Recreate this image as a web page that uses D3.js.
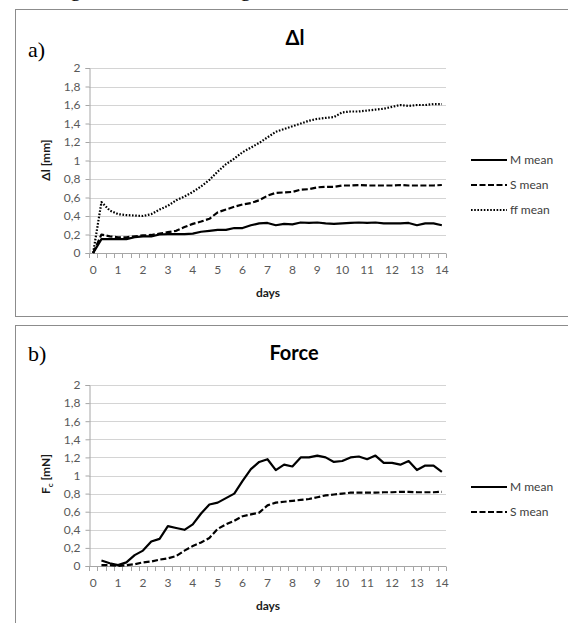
<!DOCTYPE html>
<html lang="en">
<head>
  <meta charset="UTF-8">
  <title>Δl and Force</title>
  <style>
  body { margin: 0; background: #fff; }
  .grid line { stroke: #d4d4d4; stroke-width: 1.2px; }
  .tick-label { font-family: Lato, "Open Sans", sans-serif; font-size: 12px; fill: #595959; }
  .axis-title { font-family: Lato, "Open Sans", sans-serif; font-size: 12px; font-weight: bold; fill: #1a1a1a; }
  .chart-title { font-family: Lato, "Open Sans", sans-serif; font-size: 20px; font-weight: bold; fill: #000; }
  .panel-tag { font-family: "Liberation Serif", "DejaVu Serif", serif; font-size: 22px; fill: #000; }
  .legend text { font-family: Lato, "Open Sans", sans-serif; font-size: 12px; fill: #404040; }
  </style>
</head>
<body>
  <script src="https://d3js.org/d3.v7.min.js"></script>
  <script type="text/javascript">

    // one category every 8 hours, labels on whole days
    var dayLabels = d3.range(0, 15).map(String);
    var nCats = 43;
    var yTicks = [0, 0.2, 0.4, 0.6, 0.8, 1, 1.2, 1.4, 1.6, 1.8, 2];

    // panel a) Δl [mm]
    var mMeanDl = [0, 0.15, 0.15, 0.15, 0.15, 0.17, 0.18, 0.18, 0.2, 0.205, 0.205,
      0.205, 0.21, 0.23, 0.24, 0.25, 0.25, 0.27, 0.27, 0.3, 0.32, 0.325,
      0.3, 0.315, 0.31, 0.33, 0.325, 0.33, 0.32, 0.315, 0.32, 0.325,
      0.33, 0.325, 0.33, 0.32, 0.32, 0.32, 0.325, 0.3, 0.32, 0.32, 0.3];
    var sMeanDl = [0, 0.2, 0.18, 0.17, 0.17, 0.18, 0.19, 0.195, 0.21, 0.225, 0.24,
      0.28, 0.315, 0.34, 0.37, 0.44, 0.47, 0.5, 0.525, 0.54, 0.57, 0.62,
      0.65, 0.655, 0.66, 0.685, 0.69, 0.71, 0.715, 0.715, 0.73, 0.73,
      0.735, 0.73, 0.73, 0.73, 0.73, 0.735, 0.73, 0.73, 0.73, 0.73, 0.735];
    var ffMeanDl = [0, 0.55, 0.46, 0.42, 0.41, 0.405, 0.4, 0.42, 0.47, 0.51, 0.57,
      0.61, 0.66, 0.72, 0.79, 0.88, 0.96, 1.02, 1.09, 1.14, 1.19, 1.25,
      1.31, 1.34, 1.37, 1.4, 1.43, 1.45, 1.46, 1.47, 1.52, 1.53,
      1.53, 1.54, 1.55, 1.56, 1.58, 1.6, 1.59, 1.6, 1.6, 1.61, 1.61];

    // panel b) Fc [mN]
    var mMeanF = [null, 0.06, 0.03, 0.01, 0.04, 0.12, 0.17, 0.27, 0.3, 0.44, 0.42,
      0.4, 0.46, 0.58, 0.68, 0.7, 0.75, 0.8, 0.94, 1.07, 1.15, 1.18,
      1.06, 1.12, 1.1, 1.2, 1.2, 1.22, 1.2, 1.15, 1.16, 1.2,
      1.21, 1.18, 1.22, 1.14, 1.14, 1.12, 1.16, 1.06, 1.11, 1.11, 1.04];
    var sMeanF = [null, 0.01, 0.01, 0.0, 0.01, 0.02, 0.04, 0.05, 0.07, 0.085, 0.11,
      0.17, 0.22, 0.26, 0.31, 0.41, 0.46, 0.5, 0.55, 0.57, 0.59, 0.67,
      0.7, 0.71, 0.72, 0.73, 0.74, 0.76, 0.78, 0.79, 0.8, 0.81,
      0.81, 0.81, 0.81, 0.815, 0.815, 0.82, 0.82, 0.815, 0.815, 0.815, 0.82];

    var styles = {
      solid:  { width: 2.2, dash: null },
      dashed: { width: 2.2, dash: "6,2.5" },
      dotted: { width: 2.2, dash: "1.6,1.6" }
    };

    var width = 568;
    var height = 623;
    var svg = d3.select("body")
        .append("svg")
          .attr("width", width)
          .attr("height", height);

    // caption line above the figure, cut off by the frame
    svg.append("text").attr("class", "panel-tag").attr("x", 70).attr("y", -4).text("g");
    svg.append("text").attr("class", "panel-tag").attr("x", 240).attr("y", -4).text("g");

    var x = d3.scaleBand()
        .domain(d3.range(nCats))
        .range([89, 446]);

    function cx(i) { return x(i) + x.bandwidth() / 2; }

    function drawPanel(opt) {
      var g = svg.append("g");

      g.append("rect")
          .attr("x", 15.5).attr("y", opt.top + 0.5)
          .attr("width", 560).attr("height", opt.boxH)
          .attr("fill", "#fff")
          .attr("stroke", "#8c8c8c");

      var y = d3.scaleLinear().domain([0, 2]).range([opt.y0, opt.y2]);

      // gridlines
      g.append("g").attr("class", "grid")
        .selectAll("line")
        .data(yTicks.slice(1))
        .enter().append("line")
          .attr("x1", 89).attr("x2", 446)
          .attr("y1", function(d){ return Math.round(y(d)) + 0.5; })
          .attr("y2", function(d){ return Math.round(y(d)) + 0.5; });

      // y axis with outward ticks
      var yAxis = d3.axisLeft(y)
          .tickValues(yTicks)
          .tickSize(4)
          .tickPadding(5)
          .tickFormat(function(d){ return String(d).replace(".", ","); });
      var ya = g.append("g")
          .attr("transform", "translate(89.5,0)")
          .call(yAxis);
      ya.select(".domain").attr("stroke", "#a6a6a6");
      ya.selectAll(".tick line").attr("stroke", "#a6a6a6");
      ya.selectAll(".tick text").attr("class", "tick-label").attr("fill", null);
      ya.attr("font-family", null).attr("font-size", null);

      // x axis: ticks on category boundaries, labels on whole days
      var bounds = d3.range(nCats + 1).map(function(k){ return 89 + k * x.step(); });
      g.append("line")
          .attr("x1", 89).attr("x2", 446)
          .attr("y1", Math.round(opt.y0) + 0.5).attr("y2", Math.round(opt.y0) + 0.5)
          .attr("stroke", "#a6a6a6");
      g.append("g").selectAll("line")
        .data(bounds)
        .enter().append("line")
          .attr("x1", function(d){ return Math.round(d) + 0.5; })
          .attr("x2", function(d){ return Math.round(d) + 0.5; })
          .attr("y1", Math.round(opt.y0) + 0.5)
          .attr("y2", Math.round(opt.y0) + 5)
          .attr("stroke", "#a6a6a6");
      g.append("g").selectAll("text")
        .data(dayLabels)
        .enter().append("text")
          .attr("class", "tick-label")
          .attr("text-anchor", "middle")
          .attr("x", function(d, i){ return cx(i * 3); })
          .attr("y", opt.y0 + 21)
          .text(function(d){ return d; });

      // series
      var line = d3.line()
          .defined(function(d){ return d != null; })
          .x(function(d, i){ return cx(i); })
          .y(function(d){ return y(d); });

      opt.series.forEach(function(s){
        var st = styles[s.style];
        g.append("path")
            .datum(s.values)
            .attr("fill", "none")
            .attr("stroke", "#000")
            .attr("stroke-width", st.width)
            .attr("stroke-linejoin", "round")
            .attr("stroke-dasharray", st.dash)
            .attr("d", line);
      });

      // titles
      g.append("text").attr("class", "chart-title")
          .attr("text-anchor", "middle")
          .attr("x", opt.titleX).attr("y", opt.titleY)
          .text(opt.title);
      g.append("text").attr("class", "panel-tag")
          .attr("x", 28).attr("y", opt.tagY)
          .text(opt.tag);
      g.append("text").attr("class", "axis-title")
          .attr("text-anchor", "middle")
          .attr("x", 268).attr("y", opt.y0 + 44)
          .text("days");
      var yt = g.append("text").attr("class", "axis-title")
          .attr("text-anchor", "middle")
          .attr("transform", "translate(" + opt.yTitleX + "," + opt.yTitleY + ") rotate(-90)");
      opt.yTitle(yt);

      // legend
      var lg = g.append("g").attr("class", "legend");
      opt.series.forEach(function(s, k){
        var ly = opt.legendY + k * 25;
        var st = styles[s.style];
        lg.append("line")
            .attr("x1", 471).attr("x2", 507)
            .attr("y1", ly).attr("y2", ly)
            .attr("stroke", "#000")
            .attr("stroke-width", st.width)
            .attr("stroke-dasharray", st.dash);
        lg.append("text")
            .attr("x", 510).attr("y", ly + 4)
            .text(s.name);
      });
    }

    drawPanel({
      top: 9, boxH: 307, y0: 253, y2: 68,
      title: "Δl", titleX: 295, titleY: 45,
      tag: "a)", tagY: 57,
      yTitleX: 50, yTitleY: 160,
      yTitle: function(t){ t.text("Δl [mm]"); },
      legendY: 160,
      series: [
        { name: "M mean", values: mMeanDl, style: "solid" },
        { name: "S mean", values: sMeanDl, style: "dashed" },
        { name: "ff mean", values: ffMeanDl, style: "dotted" }
      ]
    });

    drawPanel({
      top: 325, boxH: 320, y0: 566, y2: 385,
      title: "Force", titleX: 294, titleY: 360,
      tag: "b)", tagY: 361,
      yTitleX: 50, yTitleY: 474,
      yTitle: function(t){
        t.append("tspan").text("F");
        t.append("tspan").attr("font-size", "8px").attr("dy", 3).text("c");
        t.append("tspan").attr("dy", -3).text(" [mN]");
      },
      legendY: 487,
      series: [
        { name: "M mean", values: mMeanF, style: "solid" },
        { name: "S mean", values: sMeanF, style: "dashed" }
      ]
    });
  </script>
</body>
</html>
